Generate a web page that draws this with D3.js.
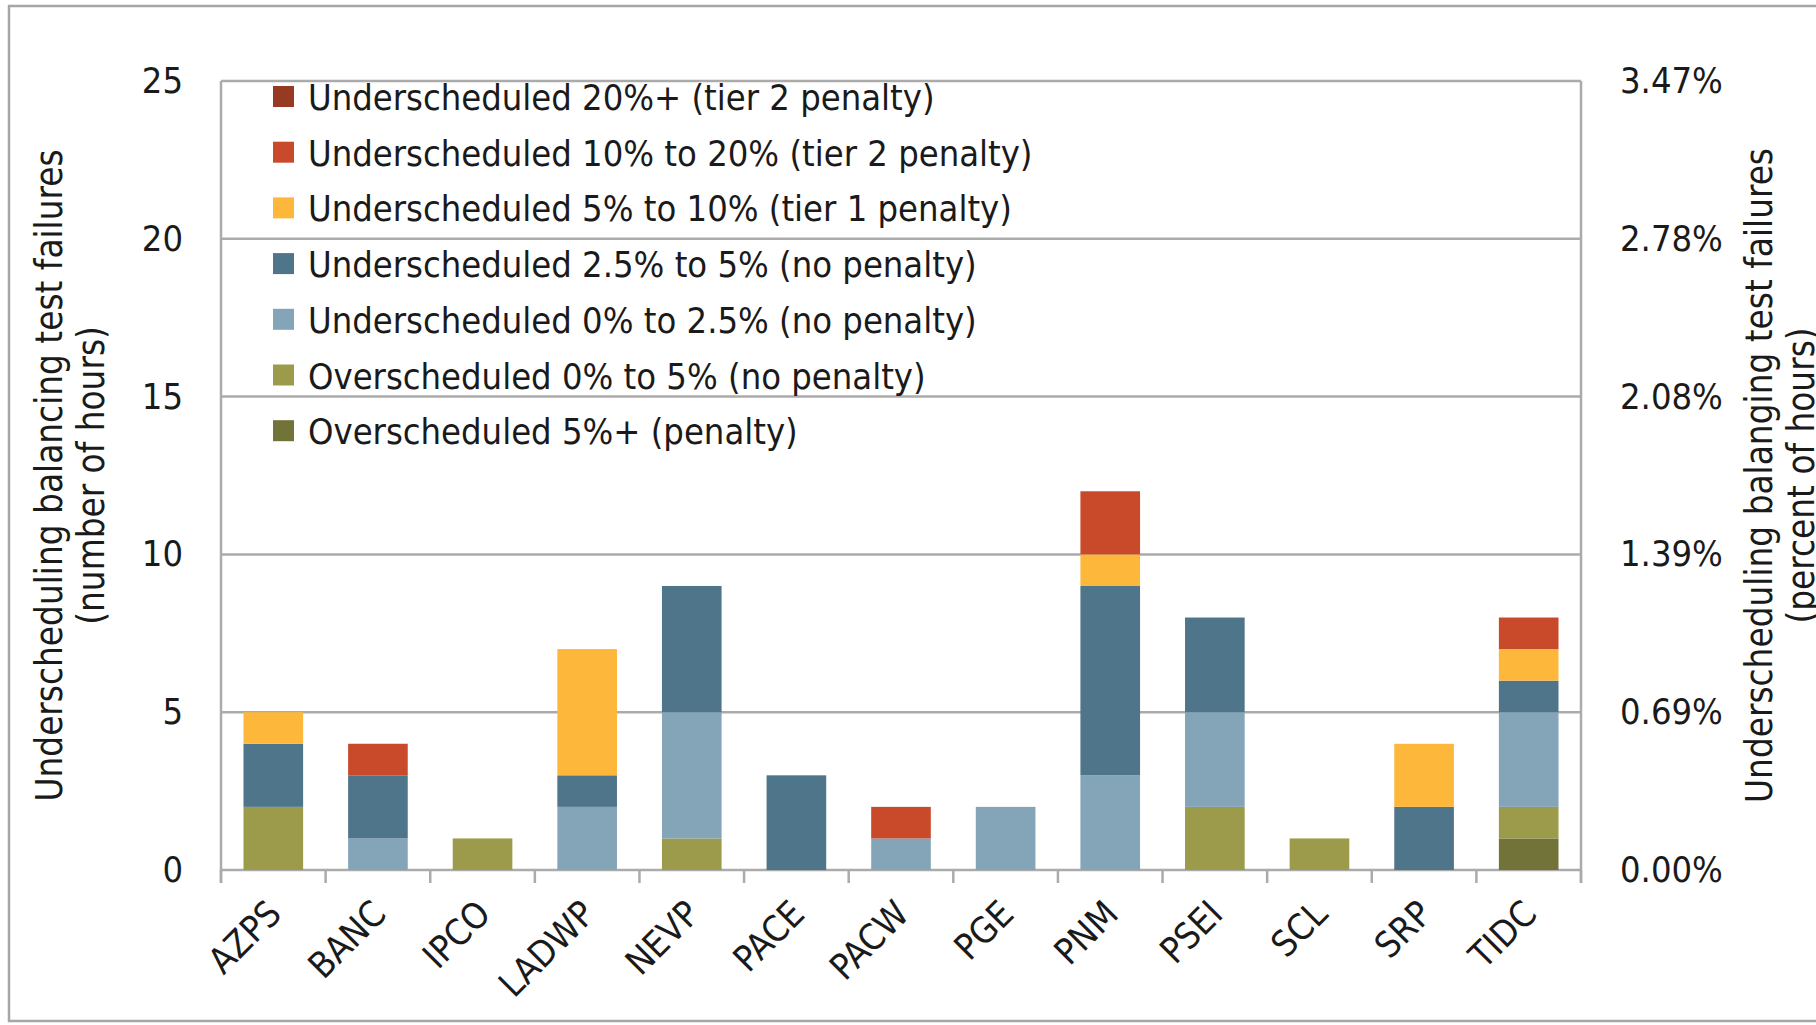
<!doctype html>
<html>
<head>
<meta charset="utf-8">
<style>
  body { margin: 0; background: #fff; }
  svg text { font-family: "DejaVu Sans Condensed", "Liberation Sans Narrow", sans-serif; fill: #1a1a1a; }
  .grid { stroke: #ababab; stroke-width: 2.5; }
</style>
<script src="https://d3js.org/d3.v7.min.js"></script>
</head>
<body>
<svg width="1816" height="1025"></svg>
<script>

// balancing areas
var regions = ["AZPS", "BANC", "IPCO", "LADWP", "NEVP", "PACE", "PACW", "PGE", "PNM", "PSEI", "SCL", "SRP", "TIDC"];

// hours per category, listed bottom of stack to top
var over5plus   = [0, 0, 0, 0, 0, 0, 0, 0, 0, 0, 0, 0, 1];
var over0to5    = [2, 0, 1, 0, 1, 0, 0, 0, 0, 2, 1, 0, 1];
var under0to25  = [0, 1, 0, 2, 4, 0, 1, 2, 3, 3, 0, 0, 3];
var under25to5  = [2, 2, 0, 1, 4, 3, 0, 0, 6, 3, 0, 2, 1];
var under5to10  = [1, 0, 0, 4, 0, 0, 0, 0, 1, 0, 0, 2, 1];
var under10to20 = [0, 1, 0, 0, 0, 0, 1, 0, 2, 0, 0, 0, 1];
var under20plus = [0, 0, 0, 0, 0, 0, 0, 0, 0, 0, 0, 0, 0];

var seriesNames = [
    "Overscheduled 5%+ (penalty)",
    "Overscheduled 0% to 5% (no penalty)",
    "Underscheduled 0% to 2.5% (no penalty)",
    "Underscheduled 2.5% to 5% (no penalty)",
    "Underscheduled 5% to 10% (tier 1 penalty)",
    "Underscheduled 10% to 20% (tier 2 penalty)",
    "Underscheduled 20%+ (tier 2 penalty)"
];
var seriesValues = [over5plus, over0to5, under0to25, under25to5, under5to10, under10to20, under20plus];
var colors = ["#727339", "#9b9b4b", "#84a5b8", "#4f758b", "#fdb73b", "#c94a2a", "#963b22"];

var hourTicks = [0, 5, 10, 15, 20, 25];
var pctLabels = ["0.00%", "0.69%", "1.39%", "2.08%", "2.78%", "3.47%"];

var svg = d3.select("svg");
var plotL = 221, plotR = 1581, plotT = 81, plotB = 870;
var fs = 36;

// outer frame
svg.append("rect")
   .attr("x", 9).attr("y", 6)
   .attr("width", 1900).attr("height", 1015)
   .attr("fill", "none")
   .attr("stroke", "#a6a6a6")
   .attr("stroke-width", 2.5);

var x = d3.scaleBand().domain(regions).range([plotL, plotR]).paddingInner(0.43).paddingOuter(0.215);
var y = d3.scaleLinear().domain([0, 25]).range([plotB, plotT]);

// table for d3.stack
var table = regions.map(function(r, i) {
    var row = { region: r };
    seriesNames.forEach(function(s, j) { row[s] = seriesValues[j][i]; });
    return row;
});
var stacked = d3.stack().keys(seriesNames)(table);

// gridlines
svg.append("g").selectAll("line")
   .data(hourTicks)
   .enter().append("line")
   .attr("class", "grid")
   .attr("x1", plotL).attr("x2", plotR)
   .attr("y1", function(d) { return y(d); })
   .attr("y2", function(d) { return y(d); });

// bars
svg.append("g").selectAll("g")
   .data(stacked)
   .enter().append("g")
   .attr("fill", function(d, i) { return colors[i]; })
   .selectAll("rect")
   .data(function(d) { return d.filter(function(p) { return p[1] > p[0]; }); })
   .enter().append("rect")
   .attr("x", function(d) { return x(d.data.region); })
   .attr("y", function(d) { return y(d[1]); })
   .attr("width", x.bandwidth())
   .attr("height", function(d) { return y(d[0]) - y(d[1]); });

// frame lines of plot area
var tickLen = 13;
svg.append("line").attr("class", "grid")
   .attr("x1", plotL).attr("x2", plotL).attr("y1", plotT).attr("y2", plotB + tickLen);
svg.append("line").attr("class", "grid")
   .attr("x1", plotR).attr("x2", plotR).attr("y1", plotT).attr("y2", plotB + tickLen);

// category boundary ticks
var gap = (x.step() - x.bandwidth()) / 2;
var bounds = regions.map(function(r) { return x(r) - gap; }).concat([x(regions[regions.length - 1]) + x.bandwidth() + gap]);
svg.append("g").selectAll("line")
   .data(bounds)
   .enter().append("line")
   .attr("class", "grid")
   .attr("x1", function(d) { return d; }).attr("x2", function(d) { return d; })
   .attr("y1", plotB).attr("y2", plotB + tickLen);

// left axis
var yl = svg.append("g")
   .attr("transform", "translate(" + plotL + ",0)")
   .call(d3.axisLeft(y).tickValues(hourTicks).tickSize(0).tickPadding(38));
yl.select(".domain").remove();
yl.selectAll("text").attr("font-size", fs);

// right axis
var yr = svg.append("g")
   .attr("transform", "translate(" + plotR + ",0)")
   .call(d3.axisRight(y).tickValues(hourTicks).tickSize(0).tickPadding(39)
          .tickFormat(function(d, i) { return pctLabels[i]; }));
yr.select(".domain").remove();
yr.selectAll("text").attr("font-size", fs);

// bottom axis labels
var xa = svg.append("g")
   .attr("transform", "translate(0," + plotB + ")")
   .call(d3.axisBottom(x).tickSize(0));
xa.select(".domain").remove();
xa.selectAll("text")
  .attr("font-size", fs)
  .attr("x", 0).attr("y", 0).attr("dy", 0)
  .attr("text-anchor", "end")
  .attr("transform", "translate(10,46) rotate(-45)");

// axis titles
var midY = (plotT + plotB) / 2;
function title(px, txt) {
    svg.append("text")
       .attr("transform", "translate(" + px + "," + midY + ") rotate(-90)")
       .attr("text-anchor", "middle")
       .attr("font-size", 36.5)
       .text(txt);
}
title(62, "Underscheduling balancing test failures");
title(104, "(number of hours)");
title(1772, "Underscheduling balanging test failures");
title(1814, "(percent of hours)");

// legend (top series first)
var legend = svg.append("g").selectAll("g")
   .data(seriesNames.slice().reverse())
   .enter().append("g")
   .attr("transform", function(d, i) { return "translate(273," + (110 + i * 55.7) + ")"; });
legend.append("rect")
   .attr("x", 0).attr("y", -24)
   .attr("width", 21).attr("height", 21)
   .attr("fill", function(d) { return colors[seriesNames.indexOf(d)]; });
legend.append("text")
   .attr("x", 35).attr("y", 0)
   .attr("font-size", fs)
   .text(function(d) { return d; });

</script>
</body>
</html>
